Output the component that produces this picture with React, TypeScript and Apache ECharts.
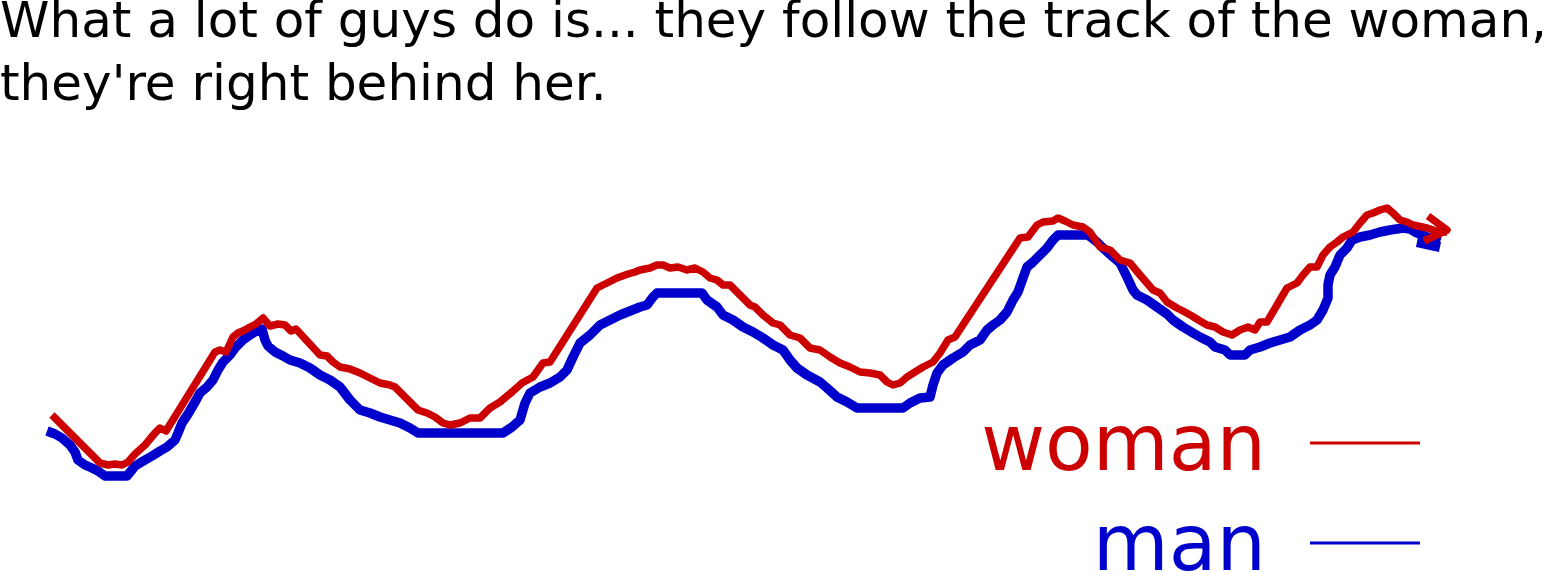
import React, { useEffect, useRef } from "react";
import * as echarts from "echarts";

// caption above the drawing
const titleLines = [
  "What a lot of guys do is... they follow the track of the woman,",
  "they're right behind her.",
];

const legendNames = ["woman", "man"];

// [position, depth] along the walk
const womanTrack = [
  [52, 415], [100, 463], [108, 465], [115, 464], [122, 465], [128, 462], [135, 454],
  [145, 445], [155, 433], [160, 428], [166, 431], [215, 352], [220, 350], [226, 352],
  [233, 337], [238, 333], [245, 330], [250, 327], [256, 324], [263, 318], [270, 326],
  [278, 324], [285, 325], [291, 331], [296, 329], [320, 355], [327, 356], [333, 362],
  [340, 367], [350, 369], [360, 373], [370, 378], [380, 383], [390, 385], [395, 387],
  [418, 410], [427, 413], [435, 417], [443, 423], [450, 425], [460, 423], [470, 418],
  [480, 418], [490, 408], [500, 402], [512, 392], [522, 383], [533, 377], [543, 363],
  [550, 362], [597, 288], [607, 283], [617, 278], [628, 274], [635, 272], [640, 270],
  [650, 268], [657, 265], [663, 265], [670, 268], [678, 267], [687, 270], [695, 268],
  [703, 272], [710, 278], [717, 280], [723, 285], [730, 285], [740, 295], [750, 305],
  [755, 307], [763, 315], [773, 323], [780, 325], [790, 335], [800, 338], [810, 348],
  [820, 350], [830, 357], [840, 363], [850, 367], [860, 372], [870, 373], [880, 375],
  [887, 382], [893, 385], [900, 383], [907, 377], [915, 372], [923, 367], [933, 362],
  [940, 353], [948, 340], [955, 337], [1020, 238], [1028, 237], [1037, 225], [1043, 222],
  [1053, 221], [1058, 218], [1065, 221], [1073, 225], [1083, 227], [1090, 232], [1100, 247],
  [1110, 250], [1120, 260], [1130, 263], [1140, 275], [1153, 290], [1160, 293], [1167, 302],
  [1177, 308], [1183, 311], [1192, 316], [1200, 321], [1207, 325], [1215, 327], [1223, 332],
  [1232, 335], [1240, 330], [1248, 327], [1255, 330], [1260, 322], [1267, 322], [1277, 305],
  [1287, 288], [1297, 283], [1303, 275], [1310, 267], [1317, 267], [1323, 255], [1330, 247],
  [1337, 242], [1343, 237], [1353, 232], [1360, 223], [1367, 215], [1373, 213], [1380, 210],
  [1387, 208], [1393, 213], [1400, 220], [1407, 222], [1413, 225], [1427, 228], [1440, 232],
  [1447, 232],
];

const manTrack = [
  [47, 431], [55, 434], [62, 438], [70, 445], [75, 452], [78, 460], [85, 465], [92, 468],
  [98, 471], [105, 476], [127, 476], [135, 466], [145, 460], [152, 456], [160, 451],
  [167, 447], [175, 440], [178, 433], [182, 423], [188, 414], [195, 402], [200, 393],
  [207, 387], [213, 380], [218, 370], [223, 362], [230, 355], [235, 348], [243, 340],
  [250, 335], [258, 330], [262, 329], [265, 340], [268, 346], [275, 352], [283, 356],
  [290, 360], [300, 363], [310, 368], [320, 375], [330, 380], [340, 387], [350, 400],
  [360, 410], [370, 413], [380, 417], [390, 420], [400, 423], [410, 428], [418, 433],
  [503, 433], [512, 427], [520, 420], [525, 403], [530, 393], [540, 387], [550, 383],
  [560, 377], [567, 370], [573, 357], [580, 343], [590, 335], [600, 325], [610, 320],
  [620, 315], [630, 311], [640, 307], [647, 305], [653, 297], [657, 293], [702, 293],
  [707, 300], [717, 307], [723, 315], [733, 320], [743, 327], [753, 332], [763, 338],
  [773, 345], [783, 350], [790, 360], [797, 368], [807, 375], [820, 382], [827, 388],
  [837, 397], [847, 402], [857, 408], [903, 408], [910, 403], [920, 398], [930, 397],
  [933, 385], [937, 373], [943, 365], [953, 358], [963, 352], [970, 345], [980, 340],
  [987, 330], [993, 325], [1000, 320], [1007, 312], [1013, 300], [1018, 292], [1023, 278],
  [1027, 267], [1033, 262], [1040, 255], [1047, 248], [1053, 240], [1058, 235], [1088, 235],
  [1097, 242], [1103, 248], [1113, 257], [1120, 263], [1127, 277], [1133, 290], [1137, 295],
  [1147, 300], [1157, 307], [1167, 314], [1173, 320], [1183, 327], [1193, 333], [1200, 337],
  [1210, 342], [1215, 347], [1225, 350], [1230, 355], [1245, 355], [1250, 350], [1260, 347],
  [1270, 343], [1280, 340], [1290, 337], [1300, 330], [1310, 325], [1317, 320], [1323, 310],
  [1328, 298], [1328, 285], [1330, 275], [1335, 267], [1340, 255], [1347, 248], [1352, 240],
  [1360, 237], [1370, 235], [1380, 232], [1390, 230], [1403, 228], [1410, 229], [1415, 232],
  [1427, 237], [1440, 242],
];

// arrow heads at the end of each track
const womanArrow = [[1428, 216], [1447, 230], [1424, 241]];
const manArrow = [[1417, 242], [1440, 247]];

const RED = "#cc0000";
const BLUE = "#0000cc";

const App = () => {
  const chartRef = useRef<HTMLDivElement | null>(null);

  useEffect(() => {
    if (!chartRef.current) return;
    const chart = echarts.init(chartRef.current, undefined, { renderer: "svg" });

    const track = (name: string, data: number[][], color: string, width: number) => ({
      name,
      type: "line",
      data,
      symbol: "none",
      showSymbol: false,
      silent: true,
      lineStyle: { color, width, cap: "butt", join: "round" },
      itemStyle: { color },
    });

    chart.setOption({
      animation: false,
      backgroundColor: "#ffffff",
      title: {
        text: titleLines.join("\n"),
        left: 0,
        top: -12,
        padding: 0,
        textStyle: {
          fontFamily: "DejaVu Sans",
          fontSize: 50,
          fontWeight: "normal",
          color: "#000000",
          lineHeight: 63,
        },
      },
      legend: {
        data: [
          { name: legendNames[0], textStyle: { color: RED } },
          { name: legendNames[1], textStyle: { color: BLUE } },
        ],
        orient: "vertical",
        right: 131,
        top: 393,
        height: 220,
        align: "right",
        icon: "rect",
        itemWidth: 110,
        itemHeight: 3,
        itemGap: 0,
        padding: 0,
        selectedMode: false,
        textStyle: {
          fontFamily: "DejaVu Sans",
          fontSize: 78,
          lineHeight: 100,
          padding: [0, 39, 0, 0],
        },
      },
      grid: { left: 0, right: 0, top: 0, bottom: 0 },
      xAxis: { type: "value", min: 0, max: 1551, show: false },
      yAxis: { type: "value", min: 0, max: 572, inverse: true, show: false },
      series: [
        track("man", manTrack, BLUE, 9.5),
        track("man-arrow", manArrow, BLUE, 10),
        track("woman", womanTrack, RED, 7.5),
        track("woman-arrow", womanArrow, RED, 7.5),
      ],
    });

    return () => {
      chart.dispose();
    };
  }, []);

  return (
    <div
      ref={chartRef}
      style={{ position: "fixed", left: 0, top: 0, width: "1551px", height: "572px" }}
    ></div>
  );
};

export default App;
